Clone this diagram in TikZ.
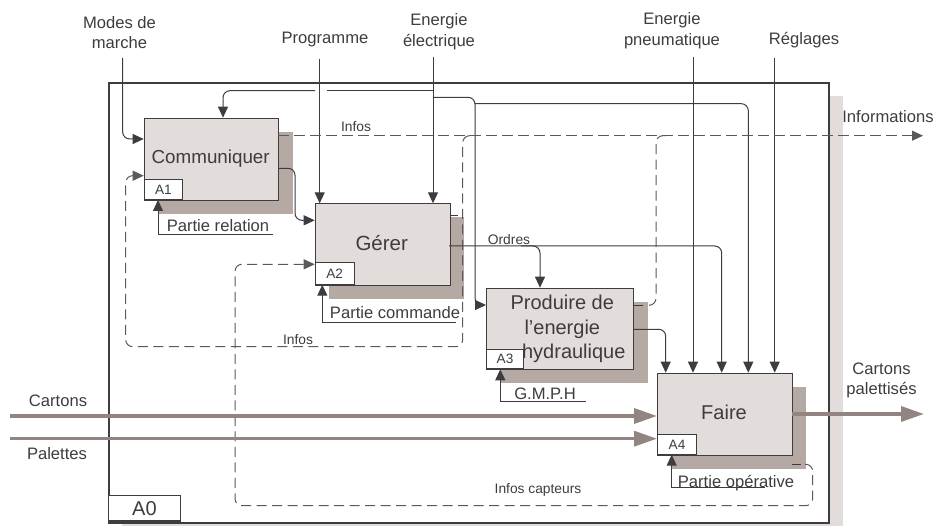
\documentclass[tikz,border=0pt]{standalone}
\usepackage{fontspec}
\setmainfont{Liberation Sans}
\usetikzlibrary{arrows.meta}
\definecolor{ink}{HTML}{3E3C3E}
\definecolor{boxfill}{HTML}{E2DDDB}
\definecolor{shadowc}{HTML}{B5A9A4}
\definecolor{flow}{HTML}{928480}
\tikzset{
  x=1pt,y=-1pt,
  txt/.style={font=\fontsize{16.6}{20.5}\selectfont,text=ink,inner sep=0pt,align=center},
  smalltxt/.style={font=\fontsize{13.8}{15}\selectfont,text=ink,inner sep=0pt},
  func/.style={font=\fontsize{20}{24.5}\selectfont,text=ink,inner sep=0pt,align=center},
  boxx/.style={draw=ink,line width=1pt,fill=boxfill},
  tagbox/.style={draw=ink,line width=1pt,fill=white,font=\fontsize{13.6}{15}\selectfont,text=ink,inner sep=0pt},
  arr/.style={draw=ink,line width=1pt,rounded corners=7pt,-{Triangle[length=11pt,width=10pt]}},
  plainl/.style={draw=ink,line width=1pt,rounded corners=7pt},
  dashline/.style={draw=ink!85,line width=1pt,rounded corners=7pt,dash pattern=on 10pt off 5.5pt},
  darr/.style={dashline,-{Triangle[length=11pt,width=10pt]}},
  thickflow/.style={draw=flow,line width=3.4pt,-{Triangle[length=23pt,width=15pt]}},
}
\begin{document}
\begin{tikzpicture}
\useasboundingbox (0,0) rectangle (935,526);
% frame shadow and frame
\fill[boxfill] (828,96) rectangle (843,526);
\fill[boxfill] (122,522) rectangle (843,526);
\node[draw=ink,line width=2pt,minimum width=720pt,minimum height=439.7pt,inner sep=0pt,anchor=north west] (frame) at (107.5,82) {};
\node[tagbox,font=\fontsize{20}{22}\selectfont,line width=1.3pt,minimum width=72.5pt,minimum height=25.7pt,anchor=south west] (a0) at (107.5,521.7) {A0};
% shadows
\fill[shadowc] (158,132) rectangle (293,214);
\fill[shadowc] (329,216.7) rectangle (463.5,298.7);
\fill[shadowc] (501,302) rectangle (648,383);
\fill[shadowc] (672,387) rectangle (806,468.7);
% boxes
\node[boxx,minimum width=134.3pt,minimum height=82.3pt,inner sep=0pt,anchor=north west] (b1) at (143.7,117.7) {};
\node[func,font=\fontsize{18.8}{22}\selectfont] at (210.7,159) {Communiquer};
\node[boxx,minimum width=135pt,minimum height=81.4pt,inner sep=0pt,anchor=north west] (b2) at (314.7,203.3) {};
\node[func,font=\fontsize{20.5}{24}\selectfont] at (381.7,243) {Gérer};
\node[boxx,minimum width=147pt,minimum height=81.6pt,inner sep=0pt,anchor=north west] (b3) at (486,287.7) {};
\node[boxx,minimum width=134.7pt,minimum height=82pt,inner sep=0pt,anchor=north west] (b4) at (657.3,372.7) {};
\node[func] at (724,412.7) {Faire};
\node[tagbox,minimum width=38.3pt,minimum height=20pt,anchor=south west] (t1) at (143.7,200) {A1};
\node[tagbox,minimum width=38.8pt,minimum height=21.4pt,anchor=south west] (t2) at (314.7,284.7) {A2};
\node[tagbox,minimum width=37pt,minimum height=19.3pt,anchor=south west] (t3) at (486,369.3) {A3};
\node[tagbox,minimum width=38.4pt,minimum height=19.4pt,anchor=south west] (t4) at (657.3,454.7) {A4};
\node[func] at (562.3,329) {Produire de\\l'energie\\\hspace*{23pt}hydraulique};
% free-end coordinates
\coordinate (modes) at (122.7,58);
\coordinate (prog) at (319.7,59);
\coordinate (ener) at (433,57);
\coordinate (pneu) at (693,57);
\coordinate (regl) at (774.7,58);
\coordinate (jc) at (433,90.7);
\coordinate (jd) at (433,97.3);
\coordinate (je) at (475,103.7);
\coordinate (jo) at (521,246);
% control & mechanisms
\draw[arr] (modes) -- (122.7,139) -- (143.7,139);
\draw[arr] (prog) -- (319.7,203.3);
\draw[arr] (ener) -- (433,203.3);
\draw[plainl] (jc) -- (327,90.7);
\draw[arr] (315,90.7) -- (223,90.7) -- (223,117.7);
\draw[arr] (jd) -- (475,97.3) -- (475,305) -- (486,305);
\draw[arr] (je) -- (748.3,103.7) -- (748.3,372.7);
\draw[arr] (pneu) -- (693,372.7);
\draw[arr] (regl) -- (774.7,372.7);
\draw[arr] (449,246) -- (721.7,246) -- (721.7,372.7);
\draw[arr] (jo) -- (540,246) -- (540,287.7);
\draw[arr] (278,168.3) -- (295,168.3) -- (295,220.3) -- (314.7,220.3);
\draw[arr] (633,329.3) -- (665.7,329.3) -- (665.7,372.7);
\draw[arr,rounded corners=0pt] (273.3,234.3) -- (158,234.3) -- (158,200);
\draw[arr,rounded corners=0pt] (456,322.3) -- (322.3,322.3) -- (322.3,284.7);
\draw[arr,rounded corners=0pt] (585.7,401.7) -- (500.3,401.7) -- (500.3,369.3);
\draw[arr,rounded corners=0pt] (765,488) -- (671.7,488) -- (671.7,454.7);
% dashed
\draw[darr,dash pattern=on 11pt off 5pt] (278,135.7) -- (923,135.7);
\draw[plainl,rounded corners=3pt] (449.7,215.3) -- (458,215.3);
\draw[darr] (470,135.7) -- (462.7,135.7) -- (462.7,346.7) -- (125.7,346.7) -- (125.7,175.7) -- (143.7,175.7);
\draw[plainl] (633,305.3) -- (643,305.3);
\draw[dashline] (649,305.3) -- (656,305.3) -- (656,135.7) -- (668,135.7);
\draw[plainl] (792,464.3) -- (801,464.3);
\draw[darr] (805,464.3) -- (812.7,464.3) -- (812.7,505.7) -- (235,505.7) -- (235,264.3) -- (314.7,264.3);
% thick flows
\draw[thickflow] (10,416) -- (657,416);
\draw[thickflow] (10,438.7) -- (657,438.7);
\draw[thickflow] (792,414) -- (924,414);
% labels
\node[txt] at (119.5,32.5) {Modes de\\marche};
\node[txt] at (325,40) {Programme};
\node[txt] at (439,31.5) {Energie\\électrique};
\node[txt] at (672,30.5) {Energie\\pneumatique};
\node[txt] at (804,40) {Réglages};
\node[txt] at (888,117) {Informations};
\node[txt] at (881.5,380.5) {Cartons\\palettisés};
\node[txt] at (58,401) {Cartons};
\node[txt] at (57,454) {Palettes};
\node[txt] at (218,225.5) {Partie relation};
\node[txt] at (395,313) {Partie commande};
\node[txt] at (545,394) {G.M.P.H};
\node[txt] at (736,482.7) {Partie opérative};
\node[smalltxt] at (356,127) {Infos};
\node[smalltxt] at (298,340) {Infos};
\node[smalltxt] at (509,240) {Ordres};
\node[smalltxt] at (538,490) {Infos capteurs};
\end{tikzpicture}
\end{document}
